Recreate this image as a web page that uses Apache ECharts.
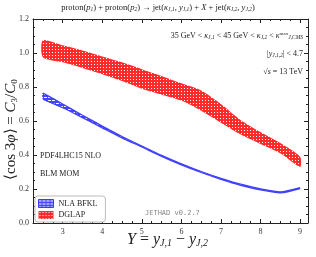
<!DOCTYPE html>
<html><head><meta charset="utf-8">
<script src="https://cdn.jsdelivr.net/npm/echarts@6/dist/echarts.min.js"></script>
<style>html,body{margin:0;padding:0;background:#fff;}#c{width:316px;height:257px;}</style>
</head><body><div id="c"></div>
<script>
const rapidity = [2.5,3,3.5,4,4.5,5,5.5,6,6.5,7,7.5,8,8.5,9];
const dglapUpper = [1.075,1.045,1.015,0.98,0.945,0.905,0.865,0.822,0.78,0.70,0.605,0.535,0.47,0.39];
const dglapLower = [0.975,0.945,0.912,0.875,0.835,0.79,0.755,0.72,0.66,0.59,0.52,0.465,0.41,0.33];
const bfklUpper = [0.765,0.70,0.634,0.57,0.509,0.453,0.398,0.348,0.303,0.263,0.228,0.201,0.183,0.208];
const bfklLower = [0.729,0.678,0.62,0.56,0.501,0.447,0.392,0.342,0.297,0.257,0.222,0.195,0.177,0.202];
const xMajor = [3,4,5,6,7,8,9];

function pattern(bg, fg, w, h, dots){
  const c=document.createElement('canvas'); c.width=w; c.height=h;
  const g=c.getContext('2d'); g.fillStyle=bg; g.fillRect(0,0,w,h);
  g.fillStyle=fg; dots.forEach(d=>g.fillRect(d[0],d[1],1,1));
  return {image:c, repeat:'repeat'};
}
const redDots=[[1,1]];
const blueDots=[[0,1],[1,1],[2,1]];
const redPat = pattern('#ff2a2a','#ffffff',3,3,redDots);
const bluePat = pattern('#4646ff','#ffffff',4,3,blueDots);
const redPat2 = pattern('#ff2a2a','#ffffff',3,3,redDots);
const bluePat2 = pattern('#4646ff','#ffffff',4,3,blueDots);

const xQuarter=[]; for(let v=2.5; v<=9.001; v+=0.25){ if(Math.abs(v-Math.round(v))>1e-6) xQuarter.push(+v.toFixed(2)); }

const serif='Liberation Serif';
const chart=echarts.init(document.getElementById('c'),null,{renderer:'canvas'});
const XMIN=2.25, XMAX=9.2;
function xAx(pos, major, labels){
  return {type:'value', position:pos, min:XMIN, max:XMAX, gridIndex:0, z:10,
    axisLine:{show:major, onZero:false, lineStyle:{color:'#222',width:1}},
    splitLine:{show:false},
    axisTick:{show:true, inside:true, length: major?4:2, lineStyle:{color:'#222'}, customValues: major? xMajor : xQuarter},
    axisLabel:{show:labels, customValues:xMajor, fontFamily:serif, fontSize:8, color:'#333', margin:5}};
}
function yAx(pos, labels){
  return {type:'value', position:pos, min:0, max:1.2, interval:0.2, z:10,
    axisLine:{show:true, onZero:false, lineStyle:{color:'#222',width:1}},
    splitLine:{show:false},
    axisTick:{show:true, inside:true, length:4, lineStyle:{color:'#222'}},
    minorTick:{show:true, splitNumber:4, length:2, lineStyle:{color:'#222'}},
    axisLabel:{show:labels, fontFamily:serif, fontSize:8, color:'#333', margin:4, formatter:v=>v.toFixed(1)}};
}
function bandSeries(name, upper, lower, fill, edgeColor, z){
  return {name:name, type:'custom', coordinateSystem:'cartesian2d', z:z,
    itemStyle:{color:edgeColor||'#ff2a2a'},
    data: rapidity.map((x,i)=>[x, lower[i], upper[i]]),
    encode:{x:0, y:[1,2]},
    renderItem:function(params, api){
      if(params.dataIndex!==0) return null;
      const up=rapidity.map((x,i)=>api.coord([x,upper[i]]));
      const lo=rapidity.map((x,i)=>api.coord([x,lower[i]]));
      const children=[{type:'polygon', shape:{points:up.concat(lo.slice().reverse()), smooth:0.25}, style:{fill:fill, stroke:null}}];
      if(edgeColor){
        children.push({type:'polyline', shape:{points:up, smooth:0.25}, style:{fill:null, stroke:edgeColor, lineWidth:1.3}});
        children.push({type:'polyline', shape:{points:lo, smooth:0.25}, style:{fill:null, stroke:edgeColor, lineWidth:1.3}});
      }
      return {type:'group', children:children};
    }};
}
const sub={fontFamily:serif,fontSize:5.5,fontStyle:'italic',fill:'#222',padding:[4,0,0,0]};
const sup={fontFamily:serif,fontSize:5,fill:'#222',padding:[0,0,4,0]};
const n={fontFamily:serif,fontSize:8.5,fill:'#222'};
const it={fontFamily:serif,fontSize:8.5,fontStyle:'italic',fill:'#222'};
const n8={fontFamily:serif,fontSize:8,fill:'#222'};
const it8={fontFamily:serif,fontSize:8,fontStyle:'italic',fill:'#222'};

chart.setOption({
  animation:false,
  grid:{left:33,right:8,top:19,bottom:34,containLabel:false},
  xAxis:[xAx('bottom',true,true), xAx('bottom',false,false), xAx('top',true,false), xAx('top',false,false)],
  yAxis:[yAx('left',true), yAx('right',false)],
  legend:{left:35, top:196, orient:'vertical', itemWidth:15, itemHeight:8, itemGap:3, z:20,
    padding:[3,8,3,3], borderColor:'#bbb', borderWidth:1, borderRadius:3, backgroundColor:'#fff',
    textStyle:{fontFamily:serif, fontSize:8, color:'#222'},
    data:[{name:'NLA BFKL', icon:'rect', itemStyle:{color:bluePat2, borderColor:'#3a3aff', borderWidth:1}},
          {name:'DGLAP', icon:'rect', itemStyle:{color:redPat2, borderWidth:0}}]},
  series:[
    bandSeries('DGLAP', dglapUpper, dglapLower, redPat, null, 2),
    bandSeries('NLA BFKL', bfklUpper, bfklLower, bluePat, '#4040ff', 3)
  ],
  graphic:[
    {type:'text', left:'center', top:3, z:100, style:{text:'{n|proton(}{i|p}{s|1}{n|) + proton(}{i|p}{s|2}{n|) → jet(}{i|κ}{s|J,1}{n|, }{i|y}{s|J,1}{n|) + }{i|X}{n| + jet(}{i|κ}{s|J,2}{n|, }{i|y}{s|J,2}{n|)}', rich:{n:n,i:it,s:sub}}},
    {type:'text', right:13, top:31, z:100, style:{text:'{n|35 GeV < }{i|κ}{s|J,1}{n| < 45 GeV < }{i|κ}{s|J,2}{n| < }{i|κ}{p|max}{s|J,CMS}', rich:{n:n8,i:it8,s:sub,p:sup}}},
    {type:'text', right:13, top:50, z:100, style:{text:'{n||}{i|y}{s|J,1,2}{n|| < 4.7}', rich:{n:n8,i:it8,s:sub}}},
    {type:'text', right:13, top:68, z:100, style:{text:'{n|√}{i|s}{n| = 13 TeV}', rich:{n:n8,i:it8}}},
    {type:'text', left:40, top:152, z:100, style:{text:'PDF4LHC15 NLO', font:'8px "Liberation Serif"', fill:'#222'}},
    {type:'text', left:40, top:170, z:100, style:{text:'BLM MOM', font:'8px "Liberation Serif"', fill:'#222'}},
    {type:'text', left:145, top:210, z:100, style:{text:'JETHAD v0.2.7', font:'7px "DejaVu Sans Mono"', fill:'#888'}},
    {type:'text', left:127, top:232, z:100, style:{text:'{i|Y}{n| = }{i|y}{s|J,1}{n| − }{i|y}{s|J,2}', rich:{n:{fontFamily:serif,fontSize:16,fill:'#222'},i:{fontFamily:serif,fontSize:16,fontStyle:'italic',fill:'#222'},s:{fontFamily:serif,fontSize:10,fontStyle:'italic',fill:'#222',padding:[7,0,0,0]}}}},
    {type:'text', x:4, y:180, rotation:Math.PI/2, z:100, style:{text:'{n|⟨cos 3}{i|φ}{n|⟩ = }{i|C}{s|3}{n|/}{i|C}{s|0}', rich:{n:{fontFamily:serif,fontSize:15,fill:'#222'},i:{fontFamily:serif,fontSize:15,fontStyle:'italic',fill:'#222'},s:{fontFamily:serif,fontSize:9,fill:'#222',padding:[6,0,0,0]}}}}
  ]
});
</script></body></html>
